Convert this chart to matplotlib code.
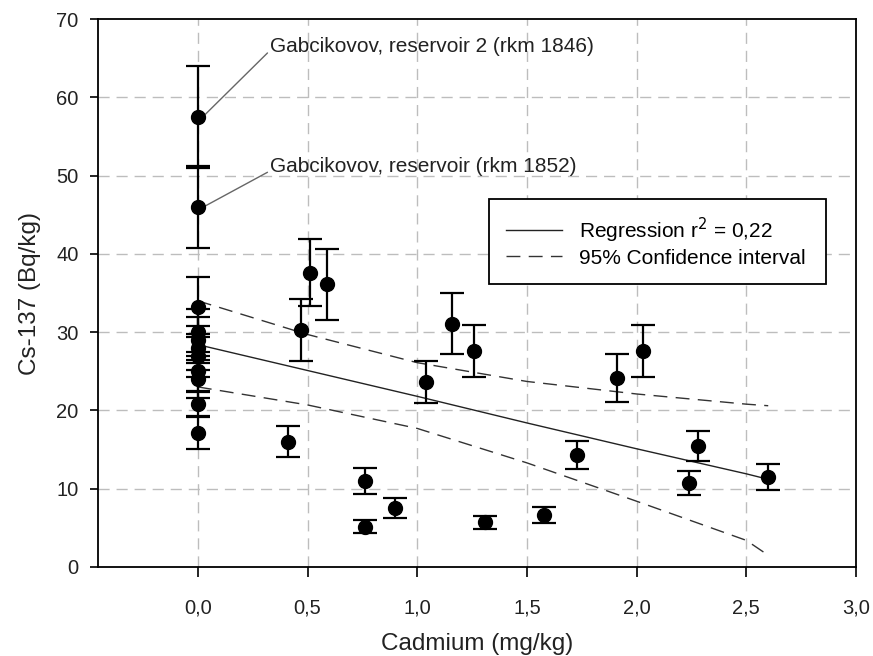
import matplotlib
matplotlib.use('Agg')
import matplotlib.pyplot as plt
from matplotlib.ticker import FuncFormatter

# measured points: cadmium (mg/kg), Cs-137 (Bq/kg), error
cadmium = [0, 0, 0, 0, 0, 0, 0, 0, 0, 0, 0,
           0.41, 0.47, 0.51, 0.59, 0.76, 0.76, 0.90, 1.04, 1.16, 1.26,
           1.31, 1.58, 1.73, 1.91, 2.03, 2.24, 2.28, 2.60]
cs137 = [57.5, 46.0, 33.2, 30.0, 29.0, 28.0, 27.0, 25.0, 24.0, 20.8, 17.1,
         16.0, 30.3, 37.6, 36.1, 11.0, 5.15, 7.5, 23.6, 31.1, 27.6,
         5.7, 6.6, 14.3, 24.1, 27.6, 10.7, 15.45, 11.5]
cs137_err = [6.5, 5.2, 3.8, 3.0, 2.9, 2.8, 2.7, 2.5, 2.4, 1.55, 2.05,
             2.0, 3.95, 4.3, 4.5, 1.65, 0.85, 1.25, 2.7, 3.95, 3.35,
             0.85, 1.0, 1.75, 3.05, 3.35, 1.5, 1.9, 1.65]

# regression line and confidence band
fit_x = [0, 0.5, 1.0, 1.5, 2.0, 2.5, 2.6]
fit_y = [28.4, 25.1, 21.8, 18.4, 15.1, 11.9, 11.2]
ci_upper = [34.0, 29.7, 26.1, 23.7, 22.1, 20.8, 20.6]
ci_lower = [23.0, 20.7, 17.7, 13.3, 8.4, 3.4, 1.5]

xticks = [0, 0.5, 1.0, 1.5, 2.0, 2.5, 3.0]
yticks = [0, 10, 20, 30, 40, 50, 60, 70]

plt.rcParams['font.family'] = ['Liberation Sans', 'DejaVu Sans']

fig = plt.figure(figsize=(8.73, 6.56), dpi=100)
ax = fig.add_axes([0.1123, 0.1357, 0.8682, 0.8353])

ax.set_xlim(-0.455, 3.0)
ax.set_ylim(0, 70)

grid_kw = dict(color='#bdbdbd', lw=1.0, dashes=(8, 5), zorder=0)
for gx in xticks[:-1]:
    ax.axvline(gx, **grid_kw)
for gy in yticks[1:-1]:
    ax.axhline(gy, **grid_kw)

ax.plot(fit_x, fit_y, color='#222222', lw=1.0, label='Regression r$^2$ = 0,22', zorder=2)
ax.plot(fit_x, ci_upper, color='#333333', lw=1.0, dashes=(10, 6),
        label='95% Confidence interval', zorder=2)
ax.plot(fit_x, ci_lower, color='#333333', lw=1.0, dashes=(10, 6), zorder=2)

ax.errorbar(cadmium, cs137, yerr=cs137_err, fmt='o', color='black', ms=10,
            elinewidth=1.6, capsize=8.5, capthick=1.6, zorder=3)

ax.annotate('Gabcikovov, reservoir 2 (rkm 1846)', xy=(0.026, 57.6), xytext=(0.33, 66.5),
            fontsize=15, color='#222222', va='center', ha='left',
            arrowprops=dict(arrowstyle='-', color='#666666', lw=1.0,
                            shrinkA=0, shrinkB=0, relpos=(0, 0.3)))
ax.annotate('Gabcikovov, reservoir (rkm 1852)', xy=(0.026, 46.0), xytext=(0.33, 51.1),
            fontsize=15, color='#222222', va='center', ha='left',
            arrowprops=dict(arrowstyle='-', color='#666666', lw=1.0,
                            shrinkA=0, shrinkB=0, relpos=(0, 0.3)))

leg = ax.legend(loc='center', bbox_to_anchor=(0.516, 0.518, 0.444, 0.152), mode='expand',
                fontsize=15, handlelength=2.7, fancybox=False, framealpha=1,
                borderpad=0.8, labelspacing=0.2, handletextpad=0.8, borderaxespad=0)
leg.get_frame().set_edgecolor('black')
leg.get_frame().set_linewidth(1.3)

ax.set_xticks(xticks)
ax.set_yticks(yticks)
ax.xaxis.set_major_formatter(FuncFormatter(lambda v, p: ('%.1f' % v).replace('.', ',')))
ax.tick_params(axis='x', direction='out', length=7, width=1.2, pad=16, labelsize=14.5)
ax.tick_params(axis='y', direction='out', length=6, width=1.2, pad=8, labelsize=14.5)
for lab in ax.get_xticklabels() + ax.get_yticklabels():
    lab.set_color('#222222')

for sp in ax.spines.values():
    sp.set_linewidth(1.3)

ax.set_xlabel('Cadmium (mg/kg)', fontsize=17.5, color='#222222', labelpad=11)
ax.set_ylabel('Cs-137 (Bq/kg)', fontsize=17.5, color='#222222', labelpad=11)

fig.savefig('out.png', dpi=100)
